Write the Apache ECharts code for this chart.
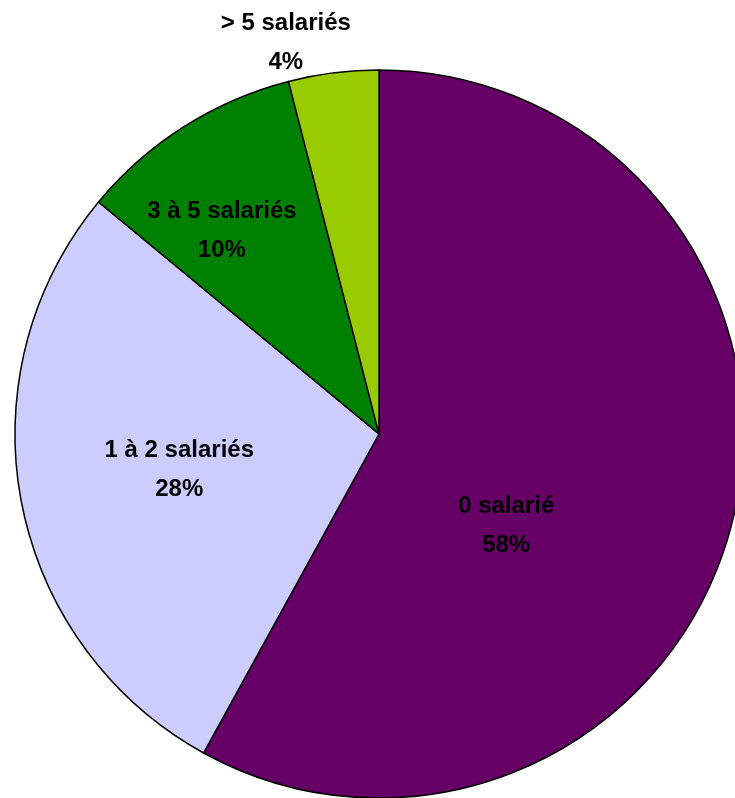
<!DOCTYPE html>
<html>
<head>
<meta charset="utf-8">
<script src="https://cdn.jsdelivr.net/npm/echarts@6/dist/echarts.min.js"></script>
<style>
    html, body {margin: 0; padding: 0; background: #ffffff;}
    #chart {width: 735px; height: 798px;}
</style>
</head>
<body>
<div id="chart"></div>
<script>
let categories = ['0 salarié', '1 à 2 salariés', '3 à 5 salariés', '> 5 salariés']
let values = [58, 28, 10, 4]
let colors = ['#660066', '#CCCCFF', '#008000', '#99CC00']
// shift each label from its default spot to where Excel put it
let labelOffsets = [[-52, 46], [-18, 1], [-58, -47], [-70, -208]]

let chart = echarts.init(document.getElementById('chart'));

let pieData = categories.map(function (name, i) {
    return {
        name: name,
        value: values[i],
        itemStyle: {color: colors[i]},
        label: {offset: labelOffsets[i]}
    }
})

let option = {
    animation: false,
    series: [
        {
            type: 'pie',
            center: [379, 434],
            radius: 364,
            startAngle: 90,
            clockwise: true,
            avoidLabelOverlap: false,
            emphasis: {disabled: true},
            itemStyle: {
                borderColor: '#000000',
                borderWidth: 1.5
            },
            label: {
                show: true,
                position: 'inside',
                formatter: function (p) {
                    return p.name + '\n' + p.value + '%'
                },
                color: '#000000',
                fontFamily: 'Liberation Sans, Arial, sans-serif',
                fontWeight: 'bold',
                fontSize: 24,
                lineHeight: 39,
                align: 'center'
            },
            labelLine: {show: false},
            data: pieData
        }
    ]
};
chart.setOption(option);
</script>
</body>
</html>
